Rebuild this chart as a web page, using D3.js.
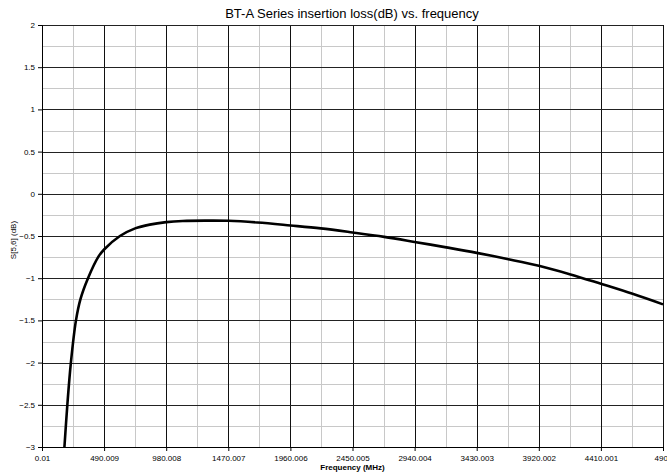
<!DOCTYPE html>
<html>
<head>
<meta charset="utf-8">
<script src="https://cdn.jsdelivr.net/npm/d3@7"></script>
<style>
    body { margin: 0; background: #fff; }
    svg { display: block; font-family: "Liberation Sans", Arial, sans-serif; }
</style>
</head>
<body>
<div id="chart"></div>
<script>

// frequency (MHz) and insertion loss (dB)
var freqMHz = [177, 200, 228, 268, 303, 363, 443, 490, 615, 735, 850,
    980, 1110, 1300, 1470, 1700, 1960, 2200, 2450, 2700, 2940, 3190, 3430, 3680,
    3920, 4170, 4410, 4660, 4900];
var lossDb = [-3.0, -2.5, -2.0, -1.5, -1.25, -1.0, -0.75, -0.66, -0.5,
    -0.41, -0.365, -0.336, -0.322, -0.318, -0.32, -0.34, -0.375, -0.41, -0.458, -0.51,
    -0.57, -0.635, -0.70, -0.775, -0.853, -0.955, -1.066, -1.185, -1.31];

var xTicks = [0.01, 490.009, 980.008, 1470.007, 1960.006, 2450.005, 2940.004,
    3430.003, 3920.002, 4410.001, 4900];
var xTickLabels = ["0.01", "490.009", "980.008", "1470.007", "1960.006", "2450.005",
    "2940.004", "3430.003", "3920.002", "4410.001", "4900"];
var yTicks = [2, 1.5, 1, 0.5, 0, -0.5, -1, -1.5, -2, -2.5, -3];

var title = "BT-A Series insertion loss(dB) vs. frequency";
var xTitle = "Frequency (MHz)";
var yTitle = "S[5,6] (dB)";

var width = 667, height = 474;
var margin = {top: 25, right: 4, bottom: 27, left: 42};

var svg = d3.select("#chart")
    .append("svg")
    .attr("width", width)
    .attr("height", height);

var x = d3.scaleLinear()
    .domain([0.01, 4900])
    .range([margin.left, width - margin.right]);

var y = d3.scaleLinear()
    .domain([-3, 2])
    .range([height - margin.bottom, margin.top]);

// minor grid: half steps on x, quarter steps on y
var xMinor = d3.range(0, 10).map(function (i) { return 0.01 + 490 * i + 245; });
var yMinor = d3.range(0, 20).map(function (i) { return -3 + 0.25 * i; })
    .filter(function (v) { return Math.abs(v * 2 - Math.round(v * 2)) > 1e-6; });

var grid = svg.append("g").attr("class", "grid");

grid.selectAll("line.xminor")
    .data(xMinor)
    .enter()
    .append("line")
    .attr("class", "xminor")
    .attr("x1", function (d) { return Math.round(x(d)) + 0.5; })
    .attr("x2", function (d) { return Math.round(x(d)) + 0.5; })
    .attr("y1", y(2))
    .attr("y2", y(-3))
    .attr("stroke", "#c8c8c8")
    .attr("stroke-width", 1);

grid.selectAll("line.yminor")
    .data(yMinor)
    .enter()
    .append("line")
    .attr("class", "yminor")
    .attr("x1", x.range()[0])
    .attr("x2", x.range()[1])
    .attr("y1", function (d) { return Math.round(y(d)) + 0.5; })
    .attr("y2", function (d) { return Math.round(y(d)) + 0.5; })
    .attr("stroke", "#c8c8c8")
    .attr("stroke-width", 1);

grid.selectAll("line.xmajor")
    .data(xTicks)
    .enter()
    .append("line")
    .attr("class", "xmajor")
    .attr("x1", function (d) { return Math.round(x(d)) + 0.5; })
    .attr("x2", function (d) { return Math.round(x(d)) + 0.5; })
    .attr("y1", y(2))
    .attr("y2", y(-3))
    .attr("stroke", "#111")
    .attr("stroke-width", 1);

grid.selectAll("line.ymajor")
    .data(yTicks)
    .enter()
    .append("line")
    .attr("class", "ymajor")
    .attr("x1", x.range()[0])
    .attr("x2", x.range()[1])
    .attr("y1", function (d) { return Math.round(y(d)) + 0.5; })
    .attr("y2", function (d) { return Math.round(y(d)) + 0.5; })
    .attr("stroke", "#222")
    .attr("stroke-width", 1);

// axes
var xAxis = d3.axisBottom(x)
    .tickValues(xTicks)
    .tickSize(4)
    .tickPadding(4)
    .tickFormat(function (d, i) { return xTickLabels[i]; });

var yAxis = d3.axisLeft(y)
    .tickValues(yTicks)
    .tickSize(4)
    .tickPadding(3)
    .tickFormat(d3.format(""));

svg.append("g")
    .attr("transform", "translate(0," + y(-3) + ")")
    .call(xAxis)
    .call(function (g) {
        g.select(".domain").attr("stroke", "#000");
        g.selectAll("line").attr("stroke", "#000");
        g.selectAll("text")
            .attr("fill", "#000")
            .style("font-size", "8px");
    });

svg.append("g")
    .attr("transform", "translate(" + x(0.01) + ",0)")
    .call(yAxis)
    .call(function (g) {
        g.select(".domain").attr("stroke", "#000");
        g.selectAll("line").attr("stroke", "#000");
        g.selectAll("text")
            .attr("fill", "#000")
            .style("font-size", "8px");
    });

// curve
var pts = freqMHz.map(function (f, i) { return [f, lossDb[i]]; });

var line = d3.line()
    .x(function (d) { return x(d[0]); })
    .y(function (d) { return y(d[1]); })
    .curve(d3.curveCatmullRom.alpha(0.5));

svg.append("path")
    .datum(pts)
    .attr("d", line)
    .attr("fill", "none")
    .attr("stroke", "#000")
    .attr("stroke-width", 2.6)
    .attr("stroke-linejoin", "round");

// titles
svg.append("text")
    .attr("x", 352)
    .attr("y", 18)
    .attr("text-anchor", "middle")
    .style("font-size", "13px")
    .text(title);

svg.append("text")
    .attr("x", (x.range()[0] + x.range()[1]) / 2)
    .attr("y", 470)
    .attr("text-anchor", "middle")
    .style("font-size", "8px")
    .style("font-weight", "bold")
    .text(xTitle);

svg.append("text")
    .attr("transform", "translate(16," + 240 + ") rotate(-90)")
    .attr("text-anchor", "middle")
    .style("font-size", "8px")
    .text(yTitle);

</script>
</body>
</html>
